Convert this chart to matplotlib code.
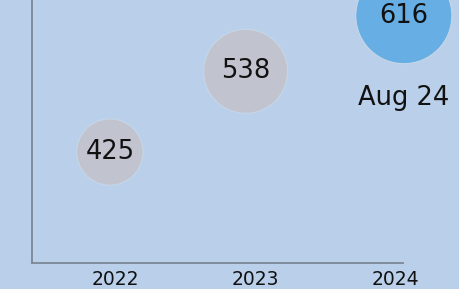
import matplotlib.pyplot as plt

# values
years = [2022, 2023, 2024]
year_labels = ["2022", "2023", "2024"]
bubble_x = [2021.96, 2022.93, 2024.06]
values = [425, 538, 616]
bubble_colors = ["#C1C4CE", "#C1C4CE", "#66AEE3"]
last_label = "Aug 24"

bg = "#BAD0EA"
px = 0.72  # points per pixel at dpi 100

fig = plt.figure(figsize=(4.59, 2.89), dpi=100, facecolor=bg)
ax = fig.add_axes([0.0697, 0.09, 0.8083, 0.91])
ax.set_facecolor(bg)

# bubble radius roughly proportional to value
sizes = [(2 * 0.078 * v * px) ** 2 for v in values]
ax.scatter(bubble_x, values, s=sizes, c=bubble_colors, edgecolors="#C6D6E8",
           linewidths=0.8, clip_on=False, zorder=3)

for x, v in zip(bubble_x, values):
    ax.text(x, v, str(v), ha="center", va="center", fontsize=18.5,
            color="#111111", zorder=4, clip_on=False)

ax.annotate(last_label, (bubble_x[-1], values[-1]), xytext=(0, -82 * px),
            textcoords="offset points", ha="center", va="center",
            fontsize=18.5, color="#111111", annotation_clip=False)

ax.set_xlim(2021.404, 2024.054)
ax.set_ylim(269.6, 637.9)
ax.set_xticks(years)
ax.set_xticklabels(year_labels, fontsize=13.5, color="#111111")
ax.set_yticks([])
ax.tick_params(axis="x", length=0, pad=5)

for side in ["top", "right"]:
    ax.spines[side].set_visible(False)
for side in ["left", "bottom"]:
    ax.spines[side].set_color("#7B8796")
    ax.spines[side].set_linewidth(1.3)

fig.savefig("out.png", dpi=100, facecolor=bg)
